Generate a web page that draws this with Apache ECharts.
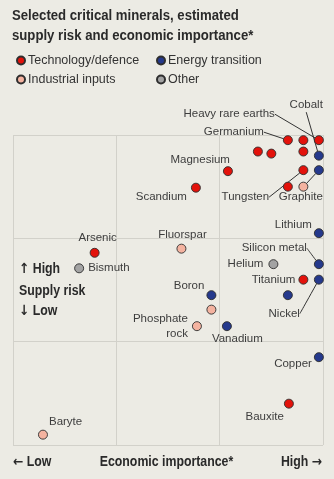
<!DOCTYPE html>
<html><head><meta charset="utf-8">
<script src="https://cdn.jsdelivr.net/npm/echarts@6/dist/echarts.min.js"></script>
<style>html,body{margin:0;padding:0;background:#ecebe4;}#c{width:334px;height:479px;}</style>
</head><body><div id="c"></div>
<script>
// ---- data (economic importance x, supply risk y, both on a 0-3 scale) ----
const categories = ['Technology/defence', 'Energy transition', 'Industrial inputs', 'Other'];

const techNames = ['Heavy rare earths', '', 'Germanium', '', '', '', 'Tungsten', '', 'Magnesium', 'Scandium', 'Titanium', 'Arsenic', 'Bauxite'];
const techX     = [2.96, 2.81, 2.66, 2.37, 2.50, 2.81, 2.81, 2.66, 2.08, 1.77, 2.81, 0.79, 2.67];
const techY     = [2.95, 2.95, 2.95, 2.84, 2.82, 2.84, 2.66, 2.50, 2.65, 2.49, 1.60, 1.86, 0.40];

const energyNames = ['Cobalt', 'Graphite', 'Lithium', 'Silicon metal', 'Nickel', '', 'Boron', 'Vanadium', 'Copper'];
const energyX     = [2.96, 2.96, 2.96, 2.96, 2.96, 2.66, 1.92, 2.07, 2.96];
const energyY     = [2.80, 2.66, 2.05, 1.75, 1.60, 1.45, 1.45, 1.15, 0.85];

const industrialNames = ['', 'Fluorspar', '', 'Phosphate rock', 'Baryte'];
const industrialX     = [2.81, 1.63, 1.92, 1.78, 0.29];
const industrialY     = [2.50, 1.90, 1.31, 1.15, 0.10];

const otherNames = ['Helium', 'Bismuth'];
const otherX     = [2.52, 0.64];
const otherY     = [1.75, 1.71];

const axisTicks = [0, 1, 2, 3];
const titleLines = ['Selected critical minerals, estimated', 'supply risk and economic importance*'];
const xAxisTexts = ['← Low', 'Economic importance*', 'High →'];
const yAxisTexts = ['↑ High', 'Supply risk', '↓ Low'];

// ---- layout / style (not data) ----
const colors = ['#e3120b', '#25398c', '#f4b3a0', '#a3a3a3'];
const bg = '#ecebe4';
const sans = '"Liberation Sans", Arial, sans-serif';
const boldFont = 'bold 14px ' + sans;
const ink = '#2a2a2a';
const arrowRich = { a: { fontFamily: '"DejaVu Sans"', fontWeight: 'bold', fontSize: 14, color: ink } };
const withArrows = t => t.replace(/([←→↑↓])/g, '{a|$1}');

// label placement relative to point centre: [dx, dy, align, leaderLine, textOverride]
const labelPlace = {
  'Heavy rare earths': [-44, -26, 'right', true],
  'Germanium': [-24, -8, 'right', true],
  'Tungsten': [-58, 27, 'center', true],
  'Magnesium': [2, -11, 'right'],
  'Scandium': [-9, 9, 'right'],
  'Titanium': [-8, 0, 'right'],
  'Arsenic': [3, -15, 'center'],
  'Bauxite': [-5, 13, 'right'],
  'Cobalt': [4, -51, 'right', true],
  'Graphite': [4, 27, 'right', true],
  'Lithium': [-7, -8, 'right'],
  'Silicon metal': [-12, -16, 'right', true],
  'Nickel': [-19, 34, 'right', true],
  'Boron': [-7, -9.5, 'right'],
  'Vanadium': [-15, 13, 'left'],
  'Copper': [-7, 7, 'right'],
  'Fluorspar': [1, -14, 'center'],
  'Phosphate rock': [-9, 0, 'right', false, 'Phosphate\nrock'],
  'Baryte': [6, -13, 'left'],
  'Helium': [-10, 0, 'right'],
  'Bismuth': [9, 0, 'left']
};

const groups = [
  [techNames, techX, techY],
  [energyNames, energyX, energyY],
  [industrialNames, industrialX, industrialY],
  [otherNames, otherX, otherY]
];

const leader = { show: true, smooth: 0.35, lineStyle: { color: '#333', width: 1 } };

const series = groups.map((g, si) => {
  const [names, xs, ys] = g;
  return {
    name: categories[si],
    type: 'scatter',
    symbolSize: 9,
    itemStyle: { color: colors[si], borderColor: '#2e2e2e', borderWidth: 0.9, opacity: 1 },
    label: {
      show: true,
      position: 'right',
      color: '#3d3d3d',
      fontFamily: sans,
      fontSize: 11.5,
      lineHeight: 15,
      formatter: p => {
        if (!p.name) return '';
        const pl = labelPlace[p.name];
        return pl && pl[4] ? pl[4] : p.name;
      }
    },
    labelLine: { show: false, smooth: 0.35, lineStyle: { color: '#333', width: 1 } },
    emphasis: { disabled: true },
    data: names.map((n, i) => {
      const pl = labelPlace[n];
      const d = { name: n, value: [xs[i], ys[i]] };
      if (pl && pl[3]) d.labelLine = leader;
      return d;
    }),
    labelLayout: params => {
      const name = groups[params.seriesIndex][0][params.dataIndex];
      const pl = labelPlace[name];
      if (!pl) return {};
      const cx = params.rect.x + params.rect.width / 2;
      const cy = params.rect.y + params.rect.height / 2;
      return { x: cx + pl[0], y: cy + pl[1], align: pl[2], verticalAlign: 'middle', hideOverlap: false };
    }
  };
});

const legendText = { fontFamily: sans, fontSize: 12.5, color: '#333', padding: [0, 0, 0, -2] };

function boldText(t, x, y, align, sx) {
  return {
    type: 'text', x: x, y: y, scaleX: sx,
    style: { text: withArrows(t), rich: arrowRich, font: boldFont, fill: ink, textAlign: align, textVerticalAlign: 'middle' }
  };
}

const chart = echarts.init(document.getElementById('c'), null, { renderer: 'canvas' });
chart.setOption({
  backgroundColor: bg,
  animation: false,
  legend: [
    {
      data: [categories[0], categories[2]], orient: 'vertical', left: 16, top: 54, padding: 0,
      itemWidth: 8, itemHeight: 8, itemGap: 6, icon: 'circle',
      textStyle: legendText, selectedMode: false
    },
    {
      data: [categories[1], categories[3]], orient: 'vertical', left: 156, top: 54, padding: 0,
      itemWidth: 8, itemHeight: 8, itemGap: 6, icon: 'circle',
      textStyle: legendText, selectedMode: false
    }
  ],
  grid: { left: 13, right: 11, top: 135, bottom: 34 },
  xAxis: {
    type: 'value', min: axisTicks[0], max: axisTicks[axisTicks.length - 1], interval: 1,
    axisLine: { show: false }, axisTick: { show: false }, axisLabel: { show: false },
    splitLine: { show: true, lineStyle: { color: '#d2d1ca', width: 1 } }
  },
  yAxis: {
    type: 'value', min: axisTicks[0], max: axisTicks[axisTicks.length - 1], interval: 1,
    axisLine: { show: false }, axisTick: { show: false }, axisLabel: { show: false },
    splitLine: { show: true, lineStyle: { color: '#d2d1ca', width: 1 } }
  },
  graphic: [
    boldText(titleLines[0], 12, 16, 'left', 0.94),
    boldText(titleLines[1], 12, 36, 'left', 0.94),
    boldText(xAxisTexts[0], 13, 462, 'left', 0.88),
    boldText(xAxisTexts[1], 166.5, 462, 'center', 0.88),
    boldText(xAxisTexts[2], 322, 462, 'right', 0.88),
    boldText(yAxisTexts[0], 19, 269, 'left', 0.88),
    boldText(yAxisTexts[1], 19, 291.5, 'left', 0.88),
    boldText(yAxisTexts[2], 19, 311.5, 'left', 0.88)
  ],
  series: series
});
</script></body></html>
